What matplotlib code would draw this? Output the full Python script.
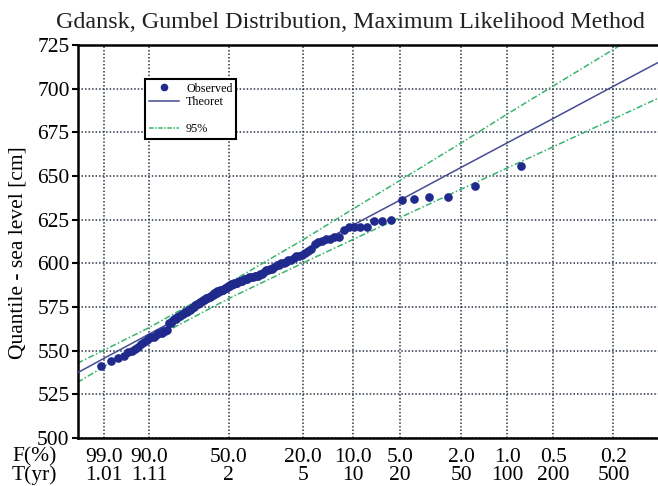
import numpy as np
import matplotlib.pyplot as plt
from matplotlib.lines import Line2D

plt.rcParams['font.family'] = ['Liberation Serif', 'DejaVu Serif']

# Roczne maksima poziomu morza w Gdansku (cm), posortowane rosnaco
observed = [541, 544, 546, 547, 549, 550, 551, 552, 554, 555,
            556, 557, 558, 558, 559, 560, 560, 560, 561, 561,
            562, 566, 566, 567, 568, 568, 569, 570, 570, 571,
            571, 572, 572, 573, 573, 574, 575, 575, 576, 577,
            577, 578, 578, 579, 579, 580, 580, 581, 581, 582,
            582, 583, 583, 584, 584, 585, 585, 585, 586, 586,
            587, 587, 588, 588, 589, 589, 589, 590, 590, 590,
            591, 591, 591, 592, 592, 592, 593, 593, 593, 594,
            594, 595, 596, 596, 597, 597, 598, 599, 599, 600,
            600, 601, 602, 602, 603, 604, 604, 605, 606, 607,
            608, 611, 612, 613, 614, 614, 615, 615, 619, 621,
            621, 621, 621, 624, 624, 625, 636, 637, 638, 638,
            644, 656]

# Kwantyle teoretyczne i pasmo ufnosci 95% dla wybranych okresow powrotu
T_line = [1.001, 1.01, 1.11, 2, 5, 10, 20, 50, 100, 200, 500, 1000]
theoret = [537.3, 545.6, 559.6, 584.0, 606.7, 621.8, 636.2, 655.0, 669.0, 682.9, 701.4, 715.3]
upper95 = [542.8, 550.3, 563.3, 588.7, 613.6, 631.0, 647.5, 669.0, 685.5, 701.5, 722.5, 738.5]
lower95 = [531.8, 540.9, 555.9, 579.8, 600.3, 613.6, 626.2, 642.5, 654.6, 666.7, 682.7, 694.8]

# Opisy osi poziomej
T_ticks = [1.01, 1.11, 2, 5, 10, 20, 50, 100, 200, 500]
F_labels = ['99.0', '90.0', '50.0', '20.0', '10.0', '5.0', '2.0', '1.0', '0.5', '0.2']
T_labels = ['1.01', '1.11', '2', '5', '10', '20', '50', '100', '200', '500']
y_ticks = [500, 525, 550, 575, 600, 625, 650, 675, 700, 725]


def gumbel_y(T):
    # zmienna zredukowana Gumbela dla okresu powrotu T
    T = np.asarray(T, dtype=float)
    return -np.log(-np.log(1.0 - 1.0 / T))


# pozycje Weibulla dla obserwacji
n = len(observed)
F_obs = np.arange(1, n + 1) / (n + 1.0)
T_obs = 1.0 / (1.0 - F_obs)

c_obs = '#1f2a8c'
c_theo = '#454c94'
c_band = '#36b56e'

fig = plt.figure(figsize=(6.58, 4.86), dpi=100)
ax = fig.add_axes([78 / 658, 1 - 438 / 486, 580 / 658, 393 / 486])

ax.plot(gumbel_y(T_line), upper95, color=c_band, lw=1.1, ls=(0, (4, 1.5, 1, 1.5)), zorder=2)
ax.plot(gumbel_y(T_line), lower95, color=c_band, lw=1.1, ls=(0, (4, 1.5, 1, 1.5)), zorder=2)
ax.plot(gumbel_y(T_line), theoret, color=c_theo, lw=1.1, zorder=3)
ax.plot(gumbel_y(T_obs), observed, 'o', color=c_obs, ms=5.2, zorder=4)

ax.set_xlim(-1.924, 6.89)
ax.set_ylim(500, 725)
ax.set_yticks(y_ticks)
ax.set_xticks(gumbel_y(T_ticks))
ax.set_xticklabels([f + '\n' + t for f, t in zip(F_labels, T_labels)])
for lab in ax.get_xticklabels():
    lab.set_linespacing(0.97)

ax.grid(True, color='#2a3545', lw=1.1, ls=(0, (1, 1.3)))
ax.tick_params(axis='x', length=0, pad=7, labelsize=15.5)
ax.tick_params(axis='y', direction='out', length=4, width=1.5, labelsize=15.5, pad=2,
               right=True)
for side in ['left', 'bottom', 'top']:
    ax.spines[side].set_linewidth(1.8)
ax.spines['right'].set_visible(False)

fig.text(12 / 658, 1 - 447 / 486, 'F(%)\nT(yr)', ha='left', va='top',
         fontsize=15.5, linespacing=0.93)
fig.text(18 / 658, 1 - 253 / 486, 'Quantile - sea level [cm]', rotation=90,
         ha='center', va='center', fontsize=15.5)
fig.text(350 / 658, 1 - 23 / 486, 'Gdansk, Gumbel Distribution, Maximum Likelihood Method',
         ha='center', va='center', fontsize=17.3, color='#222222')

handles = [Line2D([], [], marker='o', color=c_obs, ls='none', ms=4.5),
           Line2D([], [], color=c_theo, lw=1.1),
           Line2D([], [], ls='none'),
           Line2D([], [], color=c_band, lw=1.1, ls=(0, (3, 1, 1, 1)))]
leg = ax.legend(handles, ['Observed', 'Theoret', ' ', '95%'], loc='upper left',
                bbox_to_anchor=(0.1155, 0.9135), borderaxespad=0, fontsize=8.7,
                labelspacing=0.12, handlelength=2.5, handletextpad=0.6,
                fancybox=False, framealpha=1, edgecolor='black', borderpad=0.3)
leg.get_frame().set_linewidth(1.5)

plt.savefig('out.png', dpi=100)
